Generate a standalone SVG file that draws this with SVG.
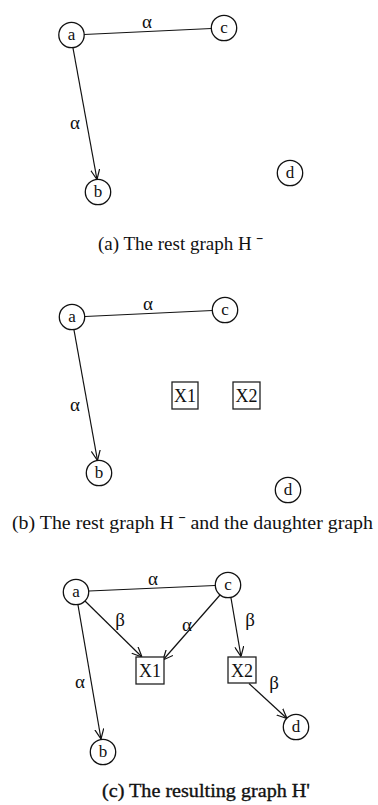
<svg xmlns="http://www.w3.org/2000/svg" width="378" height="805" viewBox="0 0 378 805">
<style>
.n circle{fill:#fff;stroke:#111;stroke-width:1.3}
.n rect{fill:#fff;stroke:#222;stroke-width:1.3}
.n text{font-family:"Liberation Serif","DejaVu Serif",serif;font-size:17px;fill:#111;text-anchor:middle}
.n text.x{font-size:18px}
.e line{stroke:#111;stroke-width:1.2;fill:none}
.e line.arr{marker-end:url(#ah)}
.lbl{font-family:"Liberation Serif","DejaVu Serif",serif;font-size:19px;fill:#111;text-anchor:middle}
.cap{font-family:"Liberation Serif","DejaVu Serif",serif;font-size:19px;fill:#111}
</style>
<defs>
<marker id="ah" viewBox="0 0 10 10" refX="10" refY="5" markerWidth="10" markerHeight="10" markerUnits="userSpaceOnUse" orient="auto">
<path d="M0,0.5 L10,5 L0,9.5" fill="none" stroke="#111" stroke-width="1.2"/>
</marker>
</defs>

<!-- Panel (a) -->
<g id="connectors-a" class="e">
<line x1="84" y1="34.5" x2="211.5" y2="28.5"/>
<line class="arr" x1="73" y1="48" x2="97" y2="179.5"/>
</g>
<text class="lbl" x="147" y="28">α</text>
<text class="lbl" x="75" y="129">α</text>
<g id="a-a" class="n"><circle cx="71.5" cy="35" r="12.7"/><text x="71.5" y="40">a</text></g>
<g id="a-c" class="n"><circle cx="224" cy="28" r="12.7"/><text x="224" y="33">c</text></g>
<g id="a-b" class="n"><circle cx="98" cy="192" r="12.7"/><text x="98" y="197">b</text></g>
<g id="a-d" class="n"><circle cx="290" cy="173" r="12.7"/><text x="290" y="178">d</text></g>
<text class="cap" x="98" y="250">(a) The rest graph H ˉ</text>

<!-- Panel (b) -->
<g id="connectors-b" class="e">
<line x1="85" y1="316.5" x2="212.5" y2="310.5"/>
<line class="arr" x1="74" y1="330" x2="97.5" y2="460.5"/>
</g>
<text class="lbl" x="148" y="310">α</text>
<text class="lbl" x="75" y="411">α</text>
<g id="b-a" class="n"><circle cx="72" cy="317" r="12.7"/><text x="72" y="322">a</text></g>
<g id="b-c" class="n"><circle cx="225" cy="310" r="12.7"/><text x="225" y="315">c</text></g>
<g id="b-b" class="n"><circle cx="99" cy="473" r="12.7"/><text x="99" y="478">b</text></g>
<g id="b-d" class="n"><circle cx="288" cy="490" r="12.7"/><text x="288" y="495">d</text></g>
<g id="b-x1" class="n"><rect x="172" y="382" width="26" height="27"/><text class="x" x="185" y="402">X1</text></g>
<g id="b-x2" class="n"><rect x="233" y="382" width="27" height="27"/><text class="x" x="246.5" y="402">X2</text></g>
<text class="cap" x="12" y="529" textLength="361" lengthAdjust="spacingAndGlyphs">(b) The rest graph H ˉ  and the daughter graph</text>

<!-- Panel (c) -->
<g id="connectors-c" class="e">
<line x1="89" y1="591" x2="215" y2="585.5"/>
<line class="arr" x1="78" y1="605" x2="101" y2="739"/>
<line class="arr" x1="85" y1="601" x2="142" y2="657"/>
<line class="arr" x1="220" y1="595" x2="163" y2="660"/>
<line class="arr" x1="231" y1="598" x2="241" y2="656.5"/>
<line class="arr" x1="249" y1="683.5" x2="287" y2="718.5"/>
</g>
<text class="lbl" x="153" y="585">α</text>
<text class="lbl" x="80" y="688">α</text>
<text class="lbl" x="120" y="626">β</text>
<text class="lbl" x="187" y="631">α</text>
<text class="lbl" x="250" y="626">β</text>
<text class="lbl" x="274" y="689">β</text>
<g id="c-a" class="n"><circle cx="76" cy="592" r="12.7"/><text x="76" y="597">a</text></g>
<g id="c-c" class="n"><circle cx="228" cy="585" r="12.7"/><text x="228" y="590">c</text></g>
<g id="c-b" class="n"><circle cx="103" cy="752" r="12.7"/><text x="103" y="757">b</text></g>
<g id="c-d" class="n"><circle cx="296" cy="727" r="12.7"/><text x="296" y="732">d</text></g>
<g id="c-x1" class="n"><rect x="136" y="657" width="28" height="27"/><text class="x" x="150" y="677">X1</text></g>
<g id="c-x2" class="n"><rect x="228" y="657" width="28" height="26"/><text class="x" x="242" y="676.5">X2</text></g>
<text class="cap" x="102" y="797" textLength="208" lengthAdjust="spacingAndGlyphs" stroke="#111" stroke-width="0.35">(c) The resulting graph H'</text>
</svg>
